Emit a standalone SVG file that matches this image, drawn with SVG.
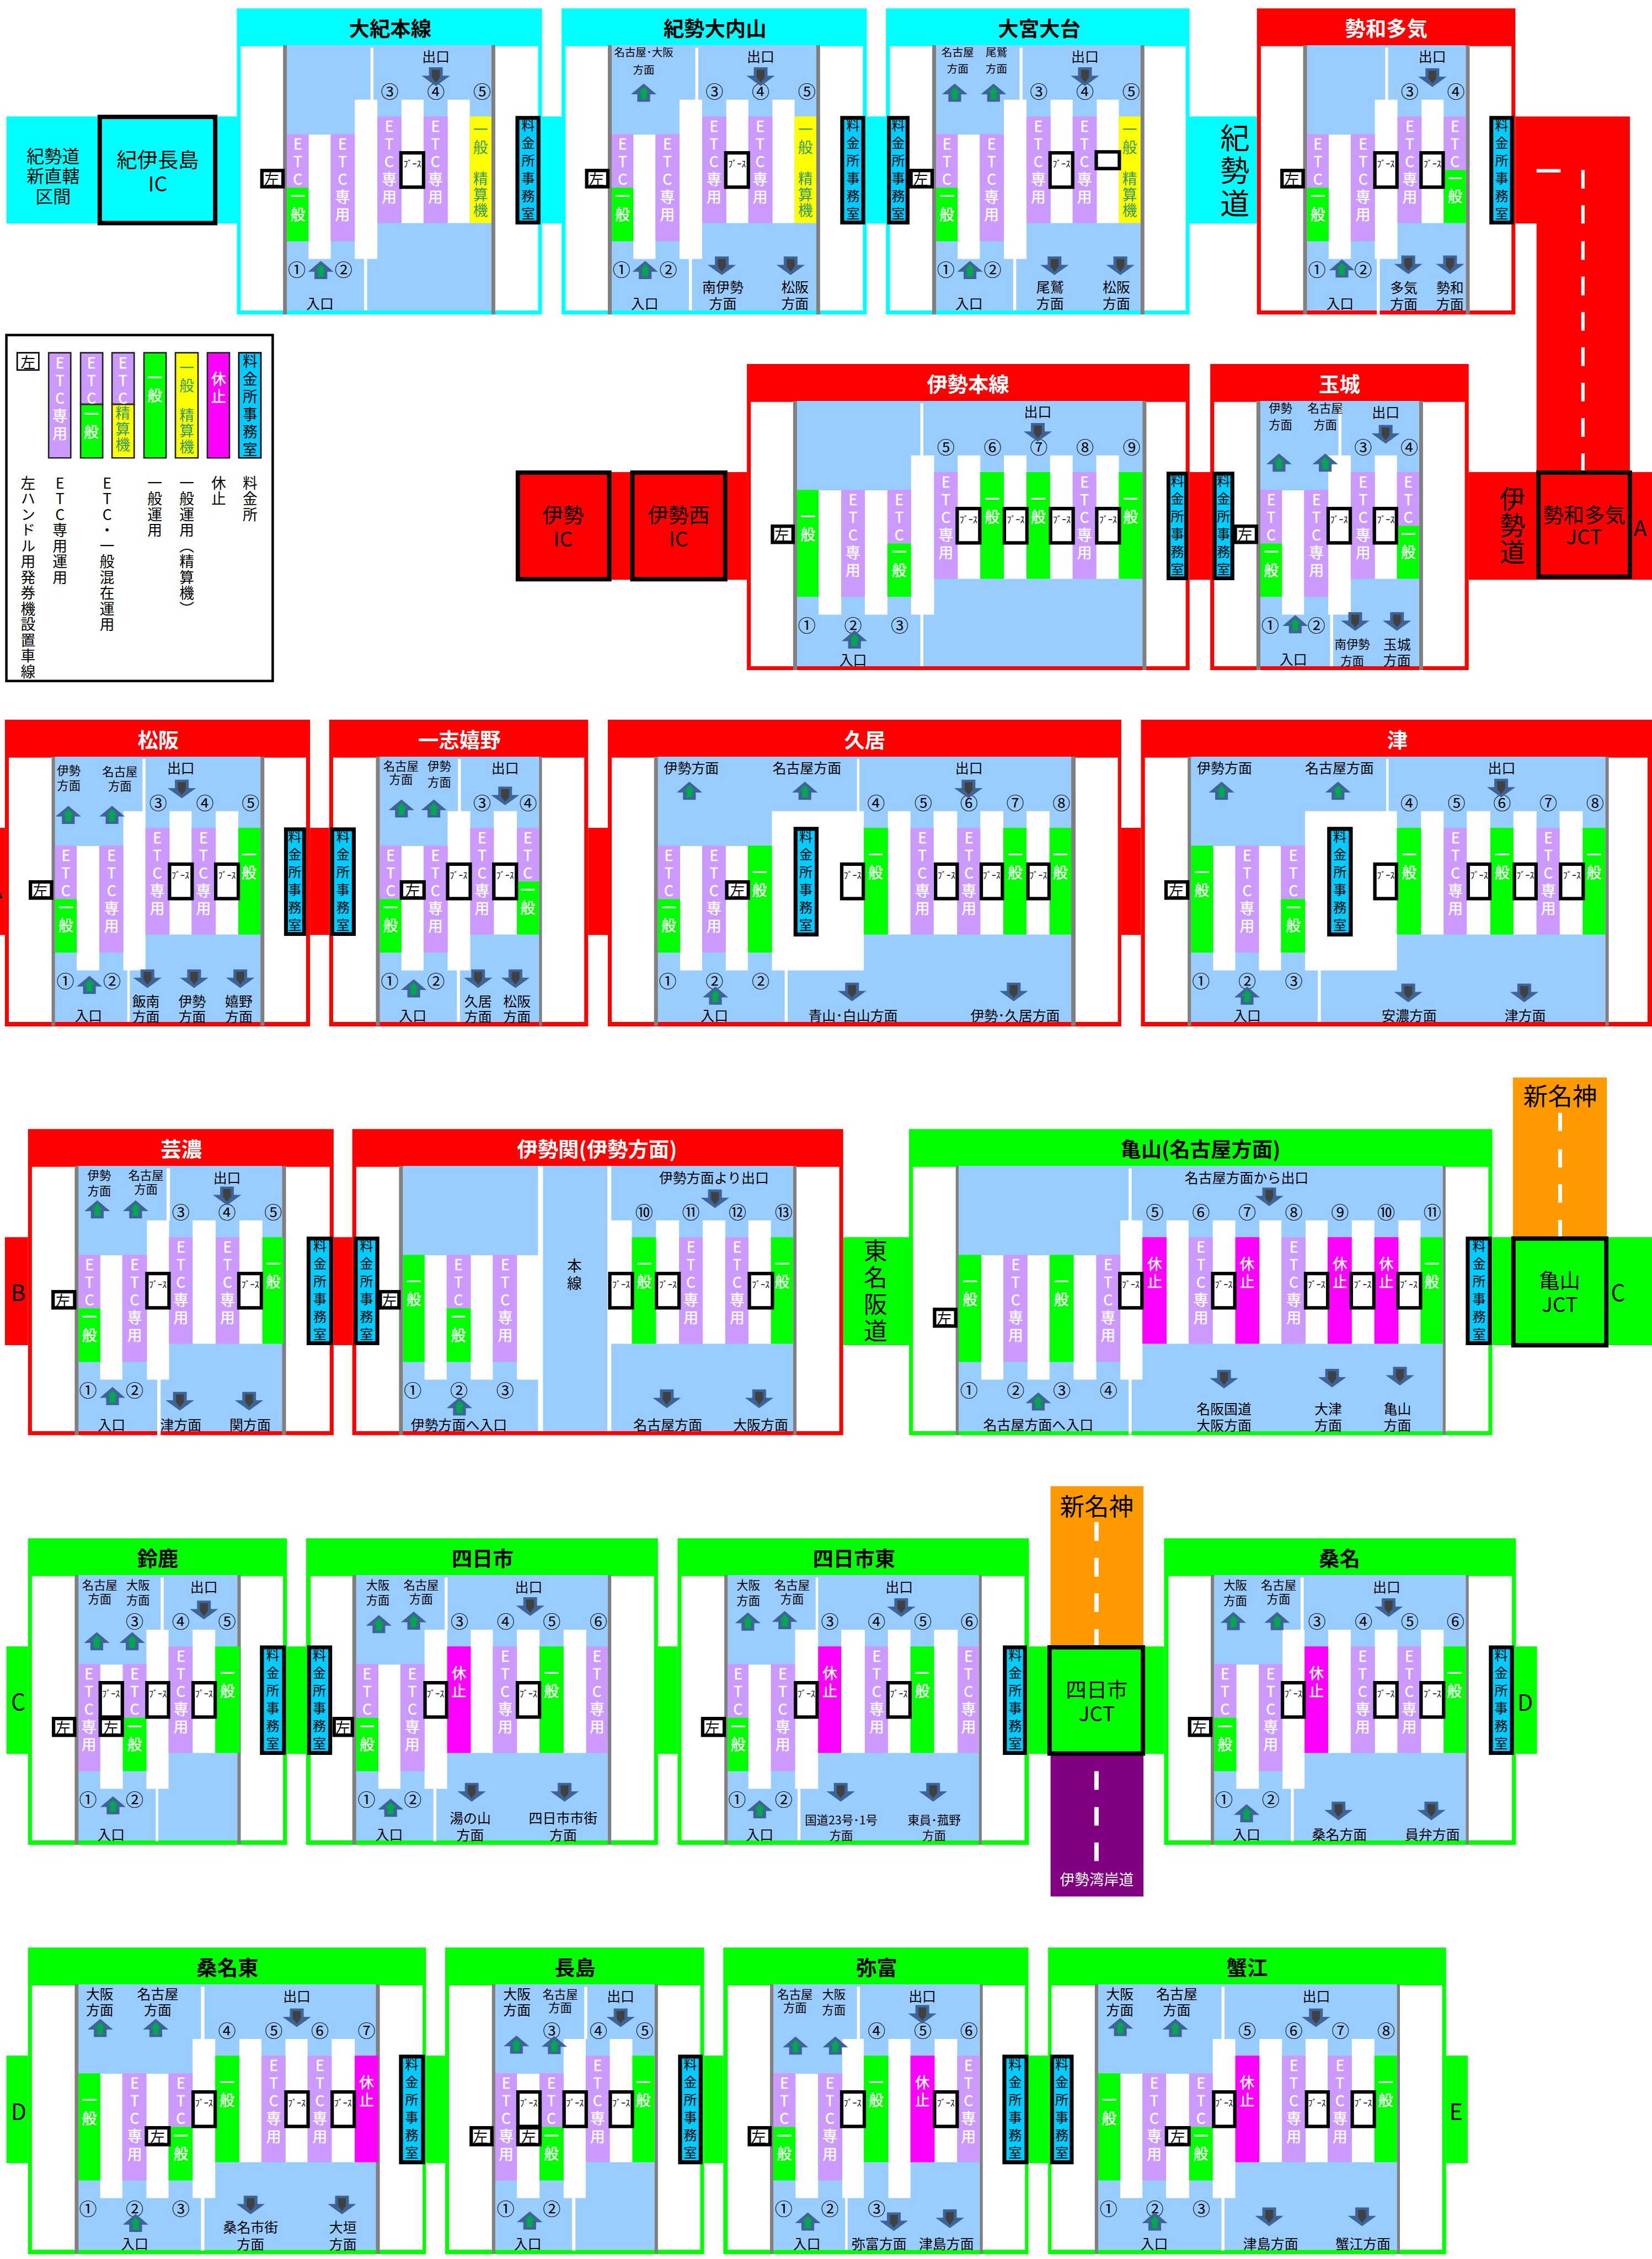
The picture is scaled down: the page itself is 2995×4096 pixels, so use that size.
<svg xmlns="http://www.w3.org/2000/svg" width="2995" height="4096" viewBox="0 0 2995 4096">
<style>
text{font-family:"Noto Sans CJK JP","Noto Sans",sans-serif;text-anchor:middle;dominant-baseline:central;font-size:28px;fill:#000}
.v,.v text{writing-mode:vertical-rl;text-orientation:upright;text-anchor:start;letter-spacing:6px;font-size:30px}
.of+.v{font-size:27px;letter-spacing:9px}
.w,.w text{fill:#fff}
.v.w text{stroke:#fff;stroke-width:.5px}
.t,.t text{fill:#339966}
.z{letter-spacing:2px!important}
.n{font-size:36px}
.bo+.n{font-size:30px}
.s text{font-size:24px}
.x text{font-size:22px}
.f{font-size:18px}
.h{font-size:42px;font-weight:700}
.wh{fill:#fff}.bl{fill:#9cf}.gy{fill:#808080}.p{fill:#c9f}.g{fill:#0f0}.y{fill:#ff0}.m{fill:#f0f}.r{fill:#f00}.c{fill:#0ff}
.bo{fill:#fff;stroke:#000;stroke-width:7}
.of{fill:#0cf;stroke:#000;stroke-width:8}
.ic{stroke:#000;stroke-width:9}
.r2{font-size:42px}
.lg{fill:#fff;stroke:#000;stroke-width:5}
.sw{stroke:#222;stroke-width:3}
</style>
<defs>
<g id="u"><path fill="#3e6496" d="M0 0L26 22H13V37H-13V22H-26z"/><path fill="#00a650" d="M0 7L10 18H6V32H-6V18H-10z"/></g>
<g id="d"><path fill="#3e6496" d="M-14 0H14V17H29L0 38L-29 17H-14z"/><path fill="#404040" d="M-8 5H8V21L0 31L-8 21z"/></g>
</defs>
<g transform="scale(.89084)">
<g id="roads">
<path class="c" d="M13 237h2545v218H13z"/>
<path class="r" d="M3084 237h233v724h-190V455h-43zM2989 961h373v219H2989zM1244 961h276v219h-276zM2421 961h42v219h-42zM0 1685h10v218H0zM631 1685h39v218h-39zM1197 1685h40v218h-40zM2282 1685h40v218h-40zM10 2518h47v220H10zM679 2518h38v220h-38z"/>
<path class="g" d="M1716 2518h134v220h-134zM3037 2518h325v220H3037zM13 3351h44v219H13zM584 3351h39v219h-39zM1339 3351h40v219h-40zM2094 3351h275v219H2094zM3085 3351h43v219h-43zM13 4184h44v219H13zM867 4184h39v219h-39zM1433 4184h39v219h-39zM2093 4184h40v219h-40zM2943 4184h44v219h-44z"/>
<rect x="3079" y="2193" width="191" height="324" fill="#f90"/>
<rect x="2138" y="3025" width="189" height="324" fill="#f90"/>
<rect x="2138" y="3573" width="189" height="287" fill="#800080"/>
<path class="wh" d="M3127 344h49v7h-49zM3218 346h7v38h-7zM3218 418h7v37h-7zM3218 491h7v38h-7zM3218 563h7v38h-7zM3218 635h7v38h-7zM3218 707h7v38h-7zM3218 779h7v38h-7zM3218 851h7v38h-7zM3218 923h7v35h-7zM3171 2265h8v37h-8zM3171 2339h8v37h-8zM3171 2410h8v38h-8zM3171 2483h8v34h-8zM2227 3098h9v38h-9zM2227 3171h9v38h-9zM2227 3243h9v38h-9zM2227 3316h9v33h-9zM2227 3605h9v38h-9zM2227 3678h9v38h-9zM2227 3750h9v38h-9z"/>
<text x="108" y="315" style="font-size:36px">紀勢道<tspan x="108" dy="41">新直轄</tspan><tspan x="108" dy="41">区間</tspan></text>
<text class="v" x="2513" y="250" style="font-size:60px;letter-spacing:7px">紀勢道</text>
<text class="v" x="3078" y="989" style="font-size:52px;letter-spacing:2px">伊勢道</text>
<text class="v" x="1782" y="2522" style="font-size:48px;letter-spacing:6px">東名阪道</text>
<text x="3338" y="1072" style="font-size:44px">A</text>
<text x="-9" y="1809" style="font-size:44px">A</text>
<text x="37" y="2628" style="font-size:46px">B</text>
<text x="3293" y="2628" style="font-size:46px">C</text>
<text x="37" y="3461" style="font-size:46px">C</text>
<text x="3104" y="3462" style="font-size:46px">D</text>
<text x="38" y="4295" style="font-size:46px">D</text>
<text x="2963" y="4295" style="font-size:46px">E</text>
<text x="3175" y="2228" style="font-size:50px">新名神</text>
<text x="2232" y="3063" style="font-size:50px">新名神</text>
<text class="w" x="2232" y="3824" style="font-size:30px;fill:#fff">伊勢湾岸道</text>
</g>
<g id="ic1"><path class="c ic" d="M203 238h235v216H203z"/><text class="r2" x="321" y="323">紀伊長島<tspan x="321" dy="48">IC</tspan></text></g>
<g id="ic2"><path class="r ic" d="M1054 962h186v217H1054z"/><text class="r2" x="1146" y="1046">伊勢<tspan x="1146" dy="48">IC</tspan></text></g>
<g id="ic3"><path class="r ic" d="M1287 962h189v217H1287z"/><text class="r2" x="1381" y="1046">伊勢西<tspan x="1381" dy="48">IC</tspan></text></g>
<g id="jct1"><path class="r ic" d="M3131 962h186v212H3131z"/><text class="r2" x="3224" y="1046">勢和多気<tspan x="3224" dy="44">JCT</tspan></text></g>
<g id="jct2"><path class="g ic" d="M3080 2521h189v217H3080z"/><text class="r2" x="3174" y="2604">亀山<tspan x="3174" dy="48">JCT</tspan></text></g>
<g id="jct3"><path class="g ic" d="M2136 3353h190v216H2136z"/><text class="r2" x="2232" y="3437">四日市<tspan x="2232" dy="48">JCT</tspan></text></g>
<g id="legend">
<path class="lg" d="M13 682h542v704H13z"/>
<path class="bo" style="stroke-width:3" d="M35 718h44v35H35z"/><text class="n" x="57" y="736">左</text>
<path class="p sw" d="M99 718h45v214H99zM164 718h45v105h-45zM228 718h45v105h-45z"/><path class="g sw" d="M164 823h45v109h-45zM293 718h45v214h-45z"/><path class="y sw" d="M228 823h45v109h-45zM357 718h46v214h-46z"/><path class="m sw" d="M422 718h45v214h-45z"/><path class="of" style="stroke-width:3" d="M486 718h45v214h-45z"/>
<g class="v w"><text x="122" y="723">ETC専用</text><text x="186" y="723">ETC</text><text x="186" y="828">一般</text><text x="250" y="723">ETC</text><text x="315" y="754">一般</text><text x="445" y="756">休止</text></g>
<g class="v t"><text class="z" x="250" y="826">精算機</text><text x="380" y="734">一般</text><text class="z" x="380" y="830">精算機</text></g>
<g class="v"><text x="509" y="720">料金所事務室</text></g>
<g class="v"><text class="z" x="57" y="968">左ハンドル用発券機設置車線</text><text class="z" x="122" y="968">ETC専用運用</text><text class="z" x="218" y="968">ETC・一般混在運用</text><text class="z" x="315" y="968">一般運用</text><text class="z" x="380" y="968">一般運用（精算機）</text><text class="z" x="445" y="968">休止</text><text class="z" x="509" y="968">料金所</text></g>
</g>
<g id="s1" transform="translate(0,17)">
<path class="c" d="M482 0h621v623H482z"/><path class="wh" d="M490 77h605v538H490z"/><path class="bl" d="M584 75h416v540H584z"/><path class="gy" d="M576 75h8v548h-8zM1000 75h8v548h-8z"/>
<path class="wh" d="M628 257h45v253h-45zM722 186h46v324h-46zM817 186h45v251h-45zM911 186h45v251h-45zM754 80h6v106h-6zM741 510h6v105h-6z"/>
<path class="p" d="M584 256h44v109h-44zM673 256h49v218h-49zM768 220h49v217h-49zM862 220h49v217h-49z"/><path class="g" d="M584 365h44v109h-44z"/><path class="y" d="M956 220h44v217h-44z"/>
<g class="v w"><text x="606" y="261">ETC</text><text x="606" y="368">一般</text><text x="697" y="261">ETC専用</text><text x="792" y="225">ETC専用</text><text x="886" y="225">ETC専用</text></g><g class="v t"><text x="978" y="232">一般</text><text class="z" x="978" y="332">精算機</text></g>
<text class="n" x="604 699" y="530">①②</text><text class="n" x="793 887 981" y="167">③④⑤</text>
<path class="bo" d="M816 294h46v70h-46z"/><text class="f" x="839" y="315">ﾌﾞｰｽ</text><path class="bo" d="M533 330h43v33h-43z"/><text class="n" x="553" y="346">左</text>
<path class="of" d="M1053 223h43v213h-43z"/><text class="v" x="1075" y="224">料金所事務室</text>
<use href="#u" x="653" y="514"/><use href="#d" x="887" y="120"/>
<text x="887" y="96">出口</text><text x="651" y="599">入口</text><text class="h" x="794" y="39">大紀本線</text>
</g>
<g id="s2" transform="translate(0,17)">
<path class="c" d="M1143 0h621v623H1143z"/><path class="wh" d="M1151 77h605v538H1151z"/><path class="bl" d="M1245 75h416v540H1245z"/><path class="gy" d="M1237 75h8v548h-8zM1661 75h8v548h-8z"/>
<path class="wh" d="M1289 257h45v253h-45zM1383 186h46v324h-46zM1478 186h45v251h-45zM1572 186h45v251h-45zM1415 80h6v106h-6zM1402 510h6v105h-6z"/>
<path class="p" d="M1245 256h44v109h-44zM1334 256h49v218h-49zM1429 220h49v217h-49zM1523 220h49v217h-49z"/><path class="g" d="M1245 365h44v109h-44z"/><path class="y" d="M1617 220h44v217h-44z"/>
<g class="v w"><text x="1267" y="261">ETC</text><text x="1267" y="368">一般</text><text x="1358" y="261">ETC専用</text><text x="1453" y="225">ETC専用</text><text x="1547" y="225">ETC専用</text></g><g class="v t"><text x="1639" y="232">一般</text><text class="z" x="1639" y="332">精算機</text></g>
<text class="n" x="1265 1360" y="530">①②</text><text class="n" x="1454 1548 1642" y="167">③④⑤</text>
<path class="bo" d="M1477 294h46v70h-46z"/><text class="f" x="1500" y="315">ﾌﾞｰｽ</text><path class="bo" d="M1194 330h43v33h-43z"/><text class="n" x="1214" y="346">左</text>
<path class="of" d="M1714 223h43v213h-43z"/><text class="v" x="1736" y="224">料金所事務室</text>
<use href="#u" x="1310" y="153"/><use href="#u" x="1313" y="514"/><use href="#d" x="1548" y="120"/><use href="#d" x="1469" y="505"/><use href="#d" x="1609" y="505"/>
<text x="1548" y="96">出口</text><text x="1312" y="599">入口</text><g class="x"><text x="1310" y="88">名古屋･大阪</text><text x="1310" y="124">方面</text></g><text x="1471" y="566">南伊勢</text><text x="1471" y="599">方面</text><text x="1618" y="566">松阪</text><text x="1618" y="599">方面</text><text class="h" x="1455" y="39">紀勢大内山</text>
</g>
<g id="s3" transform="translate(0,17)">
<path class="c" d="M1803 0h618v623H1803z"/><path class="wh" d="M1811 77h602v538H1811z"/><path class="bl" d="M1905 75h416v540H1905z"/><path class="gy" d="M1897 75h8v548h-8zM2321 75h8v548h-8z"/>
<path class="wh" d="M1949 257h45v253h-45zM2043 186h46v324h-46zM2138 186h45v251h-45zM2232 186h45v251h-45zM2075 80h6v106h-6zM2062 510h6v105h-6z"/>
<path class="p" d="M1905 256h44v109h-44zM1994 256h49v218h-49zM2089 220h49v217h-49zM2183 220h49v217h-49z"/><path class="g" d="M1905 365h44v109h-44z"/><path class="y" d="M2277 220h44v217h-44z"/>
<g class="v w"><text x="1927" y="261">ETC</text><text x="1927" y="368">一般</text><text x="2018" y="261">ETC専用</text><text x="2113" y="225">ETC専用</text><text x="2207" y="225">ETC専用</text></g><g class="v t"><text x="2299" y="232">一般</text><text class="z" x="2299" y="332">精算機</text></g>
<text class="n" x="1925 2020" y="530">①②</text><text class="n" x="2114 2208 2302" y="167">③④⑤</text>
<path class="bo" d="M2137 294h46v70h-46z"/><text class="f" x="2160" y="315">ﾌﾞｰｽ</text><path class="bo" d="M2231 292h47v34h-47z"/><path class="bo" d="M1854 330h43v33h-43z"/><text class="n" x="1874" y="346">左</text>
<path class="of" d="M1809 223h38v213h-38z"/><text class="v" x="1828" y="224">料金所事務室</text>
<use href="#u" x="1943" y="153"/><use href="#u" x="2022" y="153"/><use href="#u" x="1974" y="514"/><use href="#d" x="2208" y="120"/><use href="#d" x="2146" y="505"/><use href="#d" x="2280" y="505"/>
<text x="2208" y="96">出口</text><text x="1972" y="599">入口</text><g class="x"><text x="1949" y="88">名古屋</text><text x="1949" y="122">方面</text><text x="2028" y="88">尾鷲</text><text x="2028" y="122">方面</text></g><text x="2137" y="566">尾鷲</text><text x="2137" y="599">方面</text><text x="2272" y="566">松阪</text><text x="2272" y="599">方面</text><text class="h" x="2115" y="39">大宮大台</text>
</g>
<g id="s4" transform="translate(0,17)">
<path class="r" d="M2558 0h526v623H2558z"/><path class="wh" d="M2566 77h510v538H2566z"/><path class="bl" d="M2660 75h323v540H2660z"/><path class="gy" d="M2652 75h8v548h-8zM2983 75h8v548h-8z"/>
<path class="wh" d="M2704 257h45v253h-45zM2798 186h46v324h-46zM2893 186h45v251h-45zM2819 80h6v106h-6zM2802 510h6v113h-6z"/>
<path class="p" d="M2660 256h44v109h-44zM2749 256h49v218h-49zM2844 220h49v217h-49zM2938 220h45v109h-45z"/><path class="g" d="M2660 365h44v109h-44zM2938 329h45v108h-45z"/>
<g class="v w"><text x="2682" y="261">ETC</text><text x="2682" y="368">一般</text><text x="2774" y="261">ETC専用</text><text x="2869" y="225">ETC専用</text><text x="2961" y="225">ETC</text><text x="2961" y="332">一般</text></g>
<text class="n" x="2680 2774" y="530">①②</text><text class="n" x="2869 2963" y="167">③④</text>
<path class="bo" d="M2798 294h45v70h-45z"/><text class="f" x="2820" y="315">ﾌﾞｰｽ</text><path class="bo" d="M2892 294h45v70h-45z"/><text class="f" x="2915" y="315">ﾌﾞｰｽ</text><path class="bo" d="M2609 330h43v33h-43z"/><text class="n" x="2629" y="346">左</text>
<path class="of" d="M3035 223h42v213h-42z"/><text class="v" x="3056" y="224">料金所事務室</text>
<use href="#u" x="2731" y="511"/><use href="#d" x="2915" y="122"/><use href="#d" x="2866" y="503"/><use href="#d" x="2951" y="503"/>
<text x="2915" y="96">出口</text><text x="2727" y="599">入口</text><text x="2857" y="567">多気</text><text x="2857" y="600">方面</text><text x="2951" y="567">勢和</text><text x="2951" y="600">方面</text><text class="h w" x="2821" y="39">勢和多気</text>
</g>
<g id="s5" transform="translate(0,741)">
<path class="r" d="M1520 0h901v623H1520z"/><path class="wh" d="M1528 77h885v538H1528z"/><path class="bl" d="M1622 75h703v540H1622z"/><path class="gy" d="M1614 75h8v548h-8zM2325 75h8v548h-8z"/>
<path class="wh" d="M1666 257h46v253h-46zM1760 257h46v253h-46zM1854 186h47v324h-47zM1949 186h46v251h-46zM2043 186h46v251h-46zM2137 186h46v251h-46zM2231 186h46v251h-46zM1873 80h6v106h-6zM1873 510h6v105h-6z"/>
<path class="p" d="M1712 256h48v218h-48zM1806 256h48v109h-48zM1901 220h48v217h-48zM2183 220h48v217h-48z"/><path class="g" d="M1622 256h44v218h-44zM1806 365h48v109h-48zM1995 220h48v217h-48zM2089 220h48v217h-48zM2277 220h48v217h-48z"/>
<g class="v w"><text x="1644" y="296">一般</text><text x="1736" y="261">ETC専用</text><text x="1830" y="261">ETC</text><text x="1830" y="368">一般</text><text x="1925" y="225">ETC専用</text><text x="2019" y="260">一般</text><text x="2113" y="260">一般</text><text x="2207" y="225">ETC専用</text><text x="2301" y="260">一般</text></g>
<text class="n" x="1642 1736 1831" y="530">①②③</text><text class="n" x="1925 2020 2114 2208 2303" y="167">⑤⑥⑦⑧⑨</text>
<path class="bo" d="M1948 294h46v70h-46z"/><text class="f" x="1971" y="315">ﾌﾞｰｽ</text><path class="bo" d="M2044 294h46v70h-46z"/><text class="f" x="2067" y="315">ﾌﾞｰｽ</text><path class="bo" d="M2138 294h46v70h-46z"/><text class="f" x="2161" y="315">ﾌﾞｰｽ</text><path class="bo" d="M2232 294h46v70h-46z"/><text class="f" x="2255" y="315">ﾌﾞｰｽ</text><path class="bo" d="M1572 330h42v33h-42z"/><text class="n" x="1591" y="346">左</text>
<path class="of" d="M2378 223h36v213h-36z"/><text class="v" x="2396" y="224">料金所事務室</text>
<use href="#u" x="1739" y="542"/><use href="#d" x="2112" y="120"/>
<text x="2112" y="95">出口</text><text x="1736" y="600">入口</text><text class="h w" x="1970" y="39">伊勢本線</text>
</g>
<g id="s6" transform="translate(0,741)">
<path class="r" d="M2463 0h526v623H2463z"/><path class="wh" d="M2471 77h510v538H2471z"/><path class="bl" d="M2565 75h323v540H2565z"/><path class="gy" d="M2557 75h8v548h-8zM2888 75h8v548h-8z"/>
<path class="wh" d="M2609 257h45v253h-45zM2703 186h46v324h-46zM2798 186h45v251h-45zM2724 80h6v106h-6zM2707 510h6v105h-6z"/>
<path class="p" d="M2565 256h44v109h-44zM2654 256h49v218h-49zM2749 220h49v217h-49zM2843 220h45v109h-45z"/><path class="g" d="M2565 365h44v109h-44zM2843 329h45v108h-45z"/>
<g class="v w"><text x="2587" y="261">ETC</text><text x="2587" y="368">一般</text><text x="2679" y="261">ETC専用</text><text x="2774" y="225">ETC専用</text><text x="2866" y="225">ETC</text><text x="2866" y="332">一般</text></g>
<text class="n" x="2585 2679" y="530">①②</text><text class="n" x="2774 2868" y="167">③④</text>
<path class="bo" d="M2703 294h45v70h-45z"/><text class="f" x="2725" y="315">ﾌﾞｰｽ</text><path class="bo" d="M2797 294h45v70h-45z"/><text class="f" x="2820" y="315">ﾌﾞｰｽ</text><path class="bo" d="M2514 330h43v33h-43z"/><text class="n" x="2534" y="346">左</text>
<path class="of" d="M2472 223h36v213h-36z"/><text class="v" x="2490" y="224">料金所事務室</text>
<use href="#u" x="2603" y="182"/><use href="#u" x="2697" y="182"/><use href="#u" x="2636" y="511"/><use href="#d" x="2820" y="124"/><use href="#d" x="2758" y="505"/><use href="#d" x="2843" y="505"/>
<text x="2820" y="96">出口</text><text x="2632" y="599">入口</text><g class="s"><text x="2606" y="88">伊勢</text><text x="2606" y="122">方面</text><text x="2697" y="88">名古屋</text><text x="2697" y="122">方面</text><text x="2752" y="569">南伊勢</text><text x="2752" y="602">方面</text></g><text x="2843" y="569">玉城</text><text x="2843" y="602">方面</text><text class="h w" x="2726" y="39">玉城</text>
</g>
<g id="s7" transform="translate(0,1465)">
<path class="r" d="M10 0h621v624H10z"/><path class="wh" d="M18 77h605v538H18z"/><path class="bl" d="M112 75h418v540H112z"/><path class="gy" d="M105 75h7v548h-7zM530 75h8v548h-8z"/>
<path class="wh" d="M156 257h46v253h-46zM251 186h45v324h-45zM345 186h45v251h-45zM439 186h46v251h-46zM290 80h6v106h-6zM259 510h5v105h-5z"/>
<path class="p" d="M112 256h44v109h-44zM202 256h49v218h-49zM296 220h49v217h-49zM390 220h49v217h-49z"/><path class="g" d="M112 365h44v109h-44zM485 220h45v217h-45z"/>
<g class="v w"><text x="134" y="261">ETC</text><text x="134" y="368">一般</text><text x="227" y="261">ETC専用</text><text x="320" y="225">ETC専用</text><text x="414" y="225">ETC専用</text><text x="507" y="260">一般</text></g>
<text class="n" x="133 228" y="530">①②</text><text class="n" x="322 417 510" y="167">③④⑤</text>
<path class="bo" d="M345 294h46v70h-46z"/><text class="f" x="367" y="315">ﾌﾞｰｽ</text><path class="bo" d="M439 294h46v70h-46z"/><text class="f" x="462" y="315">ﾌﾞｰｽ</text><path class="bo" d="M62 330h43v33H62z"/><text class="n" x="82" y="346">左</text>
<path class="of" d="M582 223h37v213h-37z"/><text class="v" x="600" y="224">料金所事務室</text>
<use href="#u" x="139" y="175"/><use href="#u" x="228" y="175"/><use href="#u" x="182" y="521"/><use href="#d" x="370" y="122"/><use href="#d" x="300" y="508"/><use href="#d" x="395" y="508"/><use href="#d" x="489" y="508"/>
<text x="368" y="96">出口</text><text x="180" y="601">入口</text><g class="s"><text x="140" y="101">伊勢</text><text x="140" y="132">方面</text><text x="244" y="104">名古屋</text><text x="244" y="133">方面</text></g><text x="297" y="571">飯南</text><text x="297" y="603">方面</text><text x="391" y="571">伊勢</text><text x="391" y="603">方面</text><text x="486" y="571">嬉野</text><text x="486" y="603">方面</text><text class="h w" x="322" y="39">松阪</text>
</g>
<g id="s8" transform="translate(0,1465)">
<path class="r" d="M670 0h527v624H670z"/><path class="wh" d="M678 77h511v538H678z"/><path class="bl" d="M773 75h324v540H773z"/><path class="gy" d="M765 75h8v548h-8zM1097 75h6v548h-6z"/>
<path class="wh" d="M817 257h45v253h-45zM911 186h46v324h-46zM1005 186h47v251h-47zM932 80h6v106h-6zM930 510h6v105h-6z"/>
<path class="p" d="M773 256h44v109h-44zM862 256h49v218h-49zM957 220h48v217h-48zM1052 220h45v109h-45z"/><path class="g" d="M773 365h44v109h-44zM1052 329h45v108h-45z"/>
<g class="v w"><text x="795" y="261">ETC</text><text x="795" y="368">一般</text><text x="886" y="261">ETC専用</text><text x="981" y="225">ETC専用</text><text x="1074" y="225">ETC</text><text x="1074" y="332">一般</text></g>
<text class="n" x="793 887" y="530">①②</text><text class="n" x="981 1075" y="167">③④</text>
<path class="bo" d="M911 294h46v70h-46z"/><text class="f" x="933" y="315">ﾌﾞｰｽ</text><path class="bo" d="M1005 294h46v70h-46z"/><text class="f" x="1028" y="315">ﾌﾞｰｽ</text><path class="bo" d="M817 330h46v33h-46z"/><text class="n" x="840" y="346">左</text>
<path class="of" d="M676 223h44v213h-44z"/><text class="v" x="698" y="224">料金所事務室</text>
<use href="#u" x="817" y="162"/><use href="#u" x="883" y="162"/><use href="#u" x="842" y="528"/><use href="#d" x="1028" y="136"/><use href="#d" x="973" y="508"/><use href="#d" x="1049" y="508"/>
<text x="1028" y="96">出口</text><text x="840" y="601">入口</text><g class="s"><text x="816" y="92">名古屋</text><text x="816" y="120">方面</text><text x="894" y="92">伊勢</text><text x="894" y="125">方面</text></g><text x="973" y="571">久居</text><text x="973" y="603">方面</text><text x="1052" y="571">松阪</text><text x="1052" y="603">方面</text><text class="h w" x="935" y="39">一志嬉野</text>
</g>
<g id="s9" transform="translate(0,1465)">
<path class="r" d="M1237 0h1045v624H1237z"/><path class="wh" d="M1245 77h1030v538H1245z"/><path class="bl" d="M1339 75h841v540H1339z"/><path class="gy" d="M1331 75h8v548h-8zM2180 75h9v548h-9z"/>
<path class="wh" d="M1384 257h45v253h-45zM1477 257h45v253h-45zM1571 186h187v324h-187zM1807 186h46v251h-46zM1900 186h48v251h-48zM1995 186h47v251h-47zM2089 186h47v251h-47zM1744 80h5v106h-5zM1597 510h6v105h-6z"/>
<path class="p" d="M1339 256h45v109h-45zM1429 256h48v218h-48zM1853 220h47v217h-47zM1948 220h47v217h-47z"/><path class="g" d="M1339 365h45v109h-45zM1522 256h49v218h-49zM1758 220h49v217h-49zM2042 220h47v217h-47zM2136 220h44v217h-44z"/>
<g class="v w"><text x="1361" y="261">ETC</text><text x="1361" y="368">一般</text><text x="1453" y="261">ETC専用</text><text x="1546" y="296">一般</text><text x="1782" y="260">一般</text><text x="1877" y="225">ETC専用</text><text x="1972" y="225">ETC専用</text><text x="2066" y="260">一般</text><text x="2158" y="260">一般</text></g>
<text class="n" x="1359 1454 1548" y="530">①②②</text><text class="n" x="1783 1879 1972 2066 2160" y="167">④⑤⑥⑦⑧</text>
<path class="bo" d="M1713 294h44v70h-44z"/><text class="f" x="1735" y="315">ﾌﾞｰｽ</text><path class="bo" d="M1904 294h44v70h-44z"/><text class="f" x="1926" y="315">ﾌﾞｰｽ</text><path class="bo" d="M1997 294h43v70h-43z"/><text class="f" x="2018" y="315">ﾌﾞｰｽ</text><path class="bo" d="M2092 294h43v70h-43z"/><text class="f" x="2113" y="315">ﾌﾞｰｽ</text><path class="bo" d="M1479 330h44v33h-44z"/><text class="n" x="1501" y="346">左</text>
<path class="of" d="M1619 222h43v215h-43z"/><text class="v" x="1640" y="224">料金所事務室</text>
<use href="#u" x="1403" y="126"/><use href="#u" x="1638" y="126"/><use href="#u" x="1456" y="543"/><use href="#d" x="1971" y="122"/><use href="#d" x="1734" y="535"/><use href="#d" x="2063" y="535"/>
<text x="1972" y="96">出口</text><text x="1454" y="601">入口</text><text x="1407" y="96">伊勢方面</text><text x="1642" y="96">名古屋方面</text><text x="1736" y="601">青山･白山方面</text><text x="2066" y="601">伊勢･久居方面</text><text class="h w" x="1760" y="39">久居</text>
</g>
<g id="s10" transform="translate(0,1465)">
<path class="r" d="M2322 0h1040v624H2322z"/><path class="wh" d="M2330 77h1023v538H2330z"/><path class="bl" d="M2424 75h843v540H2424z"/><path class="gy" d="M2417 75h7v548h-7zM3267 75h7v548h-7z"/>
<path class="wh" d="M2469 257h45v253h-45zM2562 257h45v253h-45zM2656 186h187v324h-187zM2892 186h46v251h-46zM2985 186h48v251h-48zM3080 186h47v251h-47zM3174 186h47v251h-47zM2821 80h5v106h-5zM2682 510h6v105h-6z"/>
<path class="p" d="M2514 256h48v218h-48zM2607 256h49v109h-49zM2938 220h47v217h-47zM3127 220h47v217h-47z"/><path class="g" d="M2424 256h45v218h-45zM2607 365h49v109h-49zM2843 220h49v217h-49zM3033 220h47v217h-47zM3221 220h46v217h-46z"/>
<g class="v w"><text x="2446" y="296">一般</text><text x="2538" y="261">ETC専用</text><text x="2632" y="261">ETC</text><text x="2632" y="368">一般</text><text x="2868" y="260">一般</text><text x="2962" y="225">ETC専用</text><text x="3057" y="260">一般</text><text x="3151" y="225">ETC専用</text><text x="3244" y="260">一般</text></g>
<text class="n" x="2444 2538 2633" y="530">①②③</text><text class="n" x="2868 2964 3057 3151 3246" y="167">④⑤⑥⑦⑧</text>
<path class="bo" d="M2798 294h44v70h-44z"/><text class="f" x="2820" y="315">ﾌﾞｰｽ</text><path class="bo" d="M2988 294h44v70h-44z"/><text class="f" x="3010" y="315">ﾌﾞｰｽ</text><path class="bo" d="M3082 294h44v70h-44z"/><text class="f" x="3104" y="315">ﾌﾞｰｽ</text><path class="bo" d="M3176 294h46v70h-46z"/><text class="f" x="3199" y="315">ﾌﾞｰｽ</text><path class="bo" d="M2373 330h44v33h-44z"/><text class="n" x="2394" y="346">左</text>
<path class="of" d="M2705 222h44v215h-44z"/><text class="v" x="2727" y="224">料金所事務室</text>
<use href="#u" x="2486" y="126"/><use href="#u" x="2723" y="126"/><use href="#u" x="2538" y="543"/><use href="#d" x="3055" y="120"/><use href="#d" x="2866" y="537"/><use href="#d" x="3102" y="537"/>
<text x="3056" y="96">出口</text><text x="2538" y="601">入口</text><text x="2492" y="96">伊勢方面</text><text x="2726" y="96">名古屋方面</text><text x="2868" y="601">安濃方面</text><text x="3104" y="601">津方面</text><text class="h w" x="2844" y="39">津</text>
</g>
<g id="s11" transform="translate(0,2298)">
<path class="r" d="M57 0h622v623H57z"/><path class="wh" d="M65 77h606v538H65z"/><path class="bl" d="M160 75h414v540H160z"/><path class="gy" d="M152 75h8v548h-8zM574 75h8v548h-8z"/>
<path class="wh" d="M204 257h45v253h-45zM299 186h45v324h-45zM392 186h47v251h-47zM487 186h47v251h-47zM339 80h7v106h-7zM320 510h7v113h-7z"/>
<path class="p" d="M160 256h44v109h-44zM249 256h50v218h-50zM344 220h48v217h-48zM439 220h48v217h-48z"/><path class="g" d="M160 365h44v109h-44zM534 220h43v217h-43z"/>
<g class="v w"><text x="182" y="261">ETC</text><text x="182" y="368">一般</text><text x="274" y="261">ETC専用</text><text x="368" y="225">ETC専用</text><text x="463" y="225">ETC専用</text><text x="556" y="260">一般</text></g>
<text class="n" x="179 274" y="530">①②</text><text class="n" x="368 462 556" y="167">③④⑤</text>
<path class="bo" d="M299 294h45v70h-45z"/><text class="f" x="321" y="315">ﾌﾞｰｽ</text><path class="bo" d="M486 294h46v70h-46z"/><text class="f" x="509" y="315">ﾌﾞｰｽ</text><path class="bo" d="M108 331h44v33h-44z"/><text class="n" x="128" y="348">左</text>
<path class="of" d="M628 223h46v213h-46z"/><text class="v" x="651" y="224">料金所事務室</text>
<use href="#u" x="198" y="145"/><use href="#u" x="276" y="145"/><use href="#u" x="229" y="525"/><use href="#d" x="462" y="117"/><use href="#d" x="366" y="535"/><use href="#d" x="507" y="535"/>
<text x="462" y="97">出口</text><text x="227" y="600">入口</text><g class="s"><text x="202" y="92">伊勢</text><text x="202" y="124">方面</text><text x="297" y="92">名古屋</text><text x="297" y="120">方面</text></g><text x="368" y="600">津方面</text><text x="509" y="600">関方面</text><text class="h w" x="369" y="39">芸濃</text>
</g>
<g id="s12" transform="translate(0,2298)">
<path class="r" d="M717 0h999v623H717z"/><path class="wh" d="M725 77h983v538H725z"/><path class="bl" d="M820 75h794v540H820z"/><path class="gy" d="M812 75h8v548h-8zM1614 75h7v548h-7z"/>
<path class="wh" d="M1095 75h10v540h-10zM1236 75h8v540h-8zM864 257h45v253h-45zM958 257h45v253h-45zM1052 257h43v253h-43zM1244 186h42v251h-42zM1335 186h47v251h-47zM1430 186h46v251h-46zM1523 186h46v251h-46z"/>
<path class="p" d="M909 256h49v109h-49zM1003 256h49v218h-49zM1382 220h48v217h-48zM1476 220h47v217h-47z"/><path class="g" d="M820 256h44v218h-44zM909 365h49v109h-49zM1286 220h49v217h-49zM1569 220h45v217h-45z"/>
<g class="v w"><text x="842" y="296">一般</text><text x="933" y="261">ETC</text><text x="933" y="368">一般</text><text x="1028" y="261">ETC専用</text><text x="1311" y="260">一般</text><text x="1406" y="225">ETC専用</text><text x="1500" y="225">ETC専用</text><text x="1592" y="260">一般</text></g>
<text class="n" x="840 934 1028" y="530">①②③</text><text class="n" x="1311 1406 1501 1595" y="167">⑩⑪⑫⑬</text>
<path class="bo" d="M1241 294h46v70h-46z"/><text class="f" x="1264" y="315">ﾌﾞｰｽ</text><path class="bo" d="M1336 294h46v70h-46z"/><text class="f" x="1359" y="315">ﾌﾞｰｽ</text><path class="bo" d="M1525 294h47v70h-47z"/><text class="f" x="1548" y="315">ﾌﾞｰｽ</text><path class="bo" d="M774 331h38v33h-38z"/><text class="n" x="793" y="348">左</text>
<path class="of" d="M724 223h44v213h-44z"/><text class="v" x="746" y="224">料金所事務室</text>
<text class="v" x="1169" y="263">本線</text>
<use href="#u" x="935" y="546"/><use href="#d" x="1455" y="123"/><use href="#d" x="1357" y="530"/><use href="#d" x="1545" y="530"/>
<text x="1453" y="97">伊勢方面より出口</text><text x="934" y="600">伊勢方面へ入口</text><text x="1359" y="600">名古屋方面</text><text x="1548" y="600">大阪方面</text><text class="h w" x="1215" y="39">伊勢関(伊勢方面)</text>
</g>
<g id="s13" transform="translate(0,2298)">
<path class="g" d="M1850 0h1187v623H1850z"/><path class="wh" d="M1858 77h1171v538H1858z"/><path class="bl" d="M1951 75h985v540H1951z"/><path class="gy" d="M1945 75h6v548h-6zM2936 75h6v548h-6z"/>
<path class="wh" d="M1997 257h45v253h-45zM2091 257h45v253h-45zM2185 257h46v253h-46zM2280 186h45v324h-45zM2374 186h45v251h-45zM2468 186h46v251h-46zM2563 186h45v251h-45zM2657 186h45v251h-45zM2751 186h46v251h-46zM2846 186h45v251h-45zM2297 80h6v106h-6zM2297 510h6v112h-6z"/>
<path class="p" d="M2042 256h49v218h-49zM2231 256h49v218h-49zM2419 220h49v217h-49zM2608 220h49v217h-49z"/><path class="g" d="M1951 256h46v218h-46zM2136 256h49v218h-49zM2891 220h45v217h-45z"/><path class="m" d="M2325 220h49v217h-49zM2514 220h49v217h-49zM2702 220h49v217h-49zM2797 220h49v217h-49z"/>
<g class="v w"><text x="1974" y="296">一般</text><text x="2067" y="261">ETC専用</text><text x="2160" y="296">一般</text><text x="2255" y="261">ETC専用</text><text x="2350" y="260">休止</text><text x="2444" y="225">ETC専用</text><text x="2538" y="260">休止</text><text x="2633" y="225">ETC専用</text><text x="2727" y="260">休止</text><text x="2821" y="260">休止</text><text x="2914" y="260">一般</text></g>
<text class="n" x="1972 2067 2161 2256" y="530">①②③④</text><text class="n" x="2350 2444 2538 2633 2727 2821 2915" y="167">⑤⑥⑦⑧⑨⑩⑪</text>
<path class="bo" d="M2279 294h45v70h-45z"/><text class="f" x="2301" y="315">ﾌﾞｰｽ</text><path class="bo" d="M2468 294h45v70h-45z"/><text class="f" x="2490" y="315">ﾌﾞｰｽ</text><path class="bo" d="M2657 294h45v70h-45z"/><text class="f" x="2679" y="315">ﾌﾞｰｽ</text><path class="bo" d="M2750 294h46v70h-46z"/><text class="f" x="2773" y="315">ﾌﾞｰｽ</text><path class="bo" d="M2845 294h46v70h-46z"/><text class="f" x="2867" y="315">ﾌﾞｰｽ</text><path class="bo" d="M1902 367h43v34h-43z"/><text class="n" x="1922" y="384">左</text>
<path class="of" d="M2987 223h45v213h-45z"/><text class="v" x="3010" y="224">料金所事務室</text>
<use href="#u" x="2113" y="536"/><use href="#d" x="2583" y="119"/><use href="#d" x="2491" y="490"/><use href="#d" x="2711" y="488"/><use href="#d" x="2849" y="484"/>
<text x="2537" y="97">名古屋方面から出口</text><text x="2113" y="600">名古屋方面へ入口</text><text x="2491" y="568">名阪国道</text><text x="2491" y="601">大阪方面</text><text x="2703" y="568">大津</text><text x="2703" y="601">方面</text><text x="2844" y="568">亀山</text><text x="2844" y="601">方面</text><text class="h" x="2443" y="39">亀山(名古屋方面)</text>
</g>
<g id="s14" transform="translate(0,3131)">
<path class="g" d="M57 0h527v624H57z"/><path class="wh" d="M65 77h511v538H65z"/><path class="bl" d="M160 75h323v540H160z"/><path class="gy" d="M152 75h8v548h-8zM483 75h7v548h-7z"/>
<path class="wh" d="M204 257h46v253h-46zM298 186h45v324h-45zM392 186h46v251h-46zM327 80h6v106h-6zM317 510h5v107h-5z"/>
<path class="p" d="M160 256h44v218h-44zM250 256h48v109h-48zM343 220h49v217h-49z"/><path class="g" d="M250 365h48v109h-48zM438 220h50v217h-50z"/>
<g class="v w"><text x="181" y="261">ETC専用</text><text x="274" y="261">ETC</text><text x="274" y="368">一般</text><text x="368" y="225">ETC専用</text><text x="463" y="260">一般</text></g>
<text class="n" x="179 274" y="530">①②</text><text class="n" x="274 368 462" y="167">③④⑤</text>
<path class="bo" d="M204 294h45v70h-45z"/><text class="f" x="226" y="315">ﾌﾞｰｽ</text><path class="bo" d="M299 294h44v70h-44z"/><text class="f" x="321" y="315">ﾌﾞｰｽ</text><path class="bo" d="M393 294h45v70h-45z"/><text class="f" x="415" y="315">ﾌﾞｰｽ</text><path class="bo" d="M109 367h43v34h-43z"/><text class="n" x="129" y="384">左</text><path class="bo" d="M204 367h45v34h-45z"/><text class="n" x="226" y="384">左</text>
<path class="of" d="M533 222h45v215h-45z"/><text class="v" x="555" y="224">料金所事務室</text>
<use href="#u" x="197" y="191"/><use href="#u" x="269" y="191"/><use href="#u" x="230" y="525"/><use href="#d" x="415" y="127"/>
<text x="415" y="97">出口</text><text x="226" y="601">入口</text><g class="s"><text x="203" y="93">名古屋</text><text x="203" y="121">方面</text><text x="281" y="93">大阪</text><text x="281" y="124">方面</text></g><text class="h" x="321" y="39">鈴鹿</text>
</g>
<g id="s15" transform="translate(0,3131)">
<path class="g" d="M623 0h716v624H623z"/><path class="wh" d="M632 77h699v538H632z"/><path class="bl" d="M725 75h512v540H725z"/><path class="gy" d="M717 75h8v548h-8zM1237 75h7v548h-7z"/>
<path class="wh" d="M770 257h45v253h-45zM864 186h46v324h-46zM958 186h45v251h-45zM1052 186h46v251h-46zM1147 186h46v251h-46zM905 80h6v106h-6zM882 510h6v107h-6z"/>
<path class="p" d="M725 256h45v109h-45zM815 256h49v218h-49zM1003 220h49v217h-49zM1193 220h44v217h-44z"/><path class="g" d="M725 365h45v109h-45zM1098 220h49v217h-49z"/><path class="m" d="M910 220h48v217h-48z"/>
<g class="v w"><text x="747" y="261">ETC</text><text x="747" y="368">一般</text><text x="839" y="261">ETC専用</text><text x="934" y="260">休止</text><text x="1028" y="225">ETC専用</text><text x="1122" y="260">一般</text><text x="1215" y="225">ETC専用</text></g>
<text class="n" x="746 840" y="530">①②</text><text class="n" x="935 1029 1123 1218" y="167">③④⑤⑥</text>
<path class="bo" d="M865 294h44v70h-44z"/><text class="f" x="886" y="315">ﾌﾞｰｽ</text><path class="bo" d="M1053 294h45v70h-45z"/><text class="f" x="1075" y="315">ﾌﾞｰｽ</text><path class="bo" d="M680 367h37v34h-37z"/><text class="n" x="698" y="384">左</text>
<path class="of" d="M629 222h43v215h-43z"/><text class="v" x="650" y="224">料金所事務室</text>
<use href="#u" x="771" y="156"/><use href="#u" x="842" y="149"/><use href="#u" x="795" y="530"/><use href="#d" x="1079" y="120"/><use href="#d" x="960" y="498"/><use href="#d" x="1149" y="498"/>
<text x="1076" y="97">出口</text><text x="792" y="601">入口</text><g class="s"><text x="769" y="93">大阪</text><text x="769" y="124">方面</text><text x="857" y="93">名古屋</text><text x="857" y="121">方面</text></g><text x="957" y="568">湯の山</text><text x="957" y="603">方面</text><text x="1146" y="568">四日市市街</text><text x="1146" y="603">方面</text><text class="h" x="982" y="39">四日市</text>
</g>
<g id="s16" transform="translate(0,3131)">
<path class="g" d="M1379 0h715v624H1379z"/><path class="wh" d="M1387 77h698v538H1387z"/><path class="bl" d="M1481 75h511v540H1481z"/><path class="gy" d="M1474 75h7v548h-7zM1992 75h6v548h-6z"/>
<path class="wh" d="M1523 257h46v253h-46zM1618 186h47v324h-47zM1712 186h48v251h-48zM1807 186h46v251h-46zM1901 186h48v251h-48zM1660 80h5v106h-5zM1623 510h6v105h-6z"/>
<path class="p" d="M1481 256h42v109h-42zM1569 256h49v218h-49zM1760 220h47v217h-47zM1949 220h43v217h-43z"/><path class="g" d="M1481 365h42v109h-42zM1853 220h48v217h-48z"/><path class="m" d="M1665 220h47v217h-47z"/>
<g class="v w"><text x="1502" y="261">ETC</text><text x="1502" y="368">一般</text><text x="1593" y="261">ETC専用</text><text x="1689" y="260">休止</text><text x="1784" y="225">ETC専用</text><text x="1877" y="260">一般</text><text x="1971" y="225">ETC専用</text></g>
<text class="n" x="1500 1595" y="530">①②</text><text class="n" x="1689 1784 1878 1973" y="167">③④⑤⑥</text>
<path class="bo" d="M1619 294h44v70h-44z"/><text class="f" x="1641" y="315">ﾌﾞｰｽ</text><path class="bo" d="M1807 294h45v70h-45z"/><text class="f" x="1829" y="315">ﾌﾞｰｽ</text><path class="bo" d="M1430 367h44v34h-44z"/><text class="n" x="1450" y="384">左</text>
<path class="of" d="M2045 222h41v215h-41z"/><text class="v" x="2066" y="224">料金所事務室</text>
<use href="#u" x="1522" y="151"/><use href="#u" x="1597" y="148"/><use href="#u" x="1546" y="533"/><use href="#d" x="1834" y="122"/><use href="#d" x="1711" y="498"/><use href="#d" x="1899" y="498"/>
<text x="1830" y="97">出口</text><text x="1546" y="601">入口</text><g class="s"><text x="1523" y="93">大阪</text><text x="1523" y="125">方面</text><text x="1612" y="93">名古屋</text><text x="1612" y="121">方面</text><text x="1712" y="572">国道23号･1号</text><text x="1712" y="603">方面</text><text x="1901" y="572">東員･菰野</text><text x="1901" y="603">方面</text></g><text class="h" x="1738" y="39">四日市東</text>
</g>
<g id="s17" transform="translate(0,3131)">
<path class="g" d="M2369 0h716v624H2369z"/><path class="wh" d="M2378 77h699v538H2378z"/><path class="bl" d="M2471 75h512v540H2471z"/><path class="gy" d="M2464 75h7v548h-7zM2983 75h6v548h-6z"/>
<path class="wh" d="M2516 257h46v253h-46zM2610 186h45v324h-45zM2703 186h46v251h-46zM2798 186h46v251h-46zM2892 186h46v251h-46zM2647 80h6v106h-6zM2627 510h6v107h-6z"/>
<path class="p" d="M2471 256h45v109h-45zM2562 256h48v218h-48zM2749 220h49v217h-49zM2844 220h48v217h-48z"/><path class="g" d="M2471 365h45v109h-45zM2938 220h45v217h-45z"/><path class="m" d="M2655 220h48v217h-48z"/>
<g class="v w"><text x="2493" y="261">ETC</text><text x="2493" y="368">一般</text><text x="2586" y="261">ETC専用</text><text x="2679" y="260">休止</text><text x="2773" y="225">ETC専用</text><text x="2868" y="225">ETC専用</text><text x="2960" y="260">一般</text></g>
<text class="n" x="2491 2586" y="530">①②</text><text class="n" x="2680 2775 2869 2962" y="167">③④⑤⑥</text>
<path class="bo" d="M2610 294h44v70h-44z"/><text class="f" x="2632" y="315">ﾌﾞｰｽ</text><path class="bo" d="M2798 294h45v70h-45z"/><text class="f" x="2820" y="315">ﾌﾞｰｽ</text><path class="bo" d="M2892 294h46v70h-46z"/><text class="f" x="2915" y="315">ﾌﾞｰｽ</text><path class="bo" d="M2421 367h43v34h-43z"/><text class="n" x="2441" y="384">左</text>
<path class="of" d="M3034 222h43v215h-43z"/><text class="v" x="3055" y="224">料金所事務室</text>
<use href="#u" x="2510" y="150"/><use href="#u" x="2599" y="150"/><use href="#u" x="2537" y="541"/><use href="#d" x="2826" y="122"/><use href="#d" x="2724" y="536"/><use href="#d" x="2913" y="536"/>
<text x="2822" y="97">出口</text><text x="2537" y="601">入口</text><g class="s"><text x="2514" y="93">大阪</text><text x="2514" y="125">方面</text><text x="2602" y="93">名古屋</text><text x="2602" y="121">方面</text></g><text x="2726" y="601">桑名方面</text><text x="2915" y="601">員弁方面</text><text class="h" x="2726" y="39">桑名</text>
</g>
<g id="s18" transform="translate(0,3964)">
<path class="g" d="M57 0h810v624H57z"/><path class="wh" d="M65 77h795v538H65z"/><path class="bl" d="M160 75h610v540H160z"/><path class="gy" d="M152 75h8v548h-8zM765 75h8v548h-8z"/>
<path class="wh" d="M204 257h45v253h-45zM298 257h45v253h-45zM392 186h46v324h-46zM487 186h45v251h-45zM581 186h45v251h-45zM675 186h47v251h-47zM409 80h7v106h-7zM409 510h7v107h-7z"/>
<path class="p" d="M249 256h49v218h-49zM343 256h49v109h-49zM532 220h49v217h-49zM626 220h49v217h-49z"/><path class="g" d="M160 256h44v218h-44zM343 365h49v109h-49zM438 220h49v217h-49z"/><path class="m" d="M722 220h48v217h-48z"/>
<g class="v w"><text x="182" y="296">一般</text><text x="274" y="261">ETC専用</text><text x="368" y="261">ETC</text><text x="368" y="368">一般</text><text x="462" y="260">一般</text><text x="557" y="225">ETC専用</text><text x="651" y="225">ETC専用</text><text x="746" y="260">休止</text></g>
<text class="n" x="179 274 368" y="530">①②③</text><text class="n" x="462 557 651 746" y="167">④⑤⑥⑦</text>
<path class="bo" d="M393 294h45v70h-45z"/><text class="f" x="415" y="315">ﾌﾞｰｽ</text><path class="bo" d="M582 294h45v70h-45z"/><text class="f" x="604" y="315">ﾌﾞｰｽ</text><path class="bo" d="M676 294h45v70h-45z"/><text class="f" x="698" y="315">ﾌﾞｰｽ</text><path class="bo" d="M298 367h46v34h-46z"/><text class="n" x="321" y="384">左</text>
<path class="of" d="M816 222h45v215h-45z"/><text class="v" x="838" y="224">料金所事務室</text>
<use href="#u" x="204" y="145"/><use href="#u" x="317" y="145"/><use href="#u" x="276" y="542"/><use href="#d" x="604" y="124"/><use href="#d" x="510" y="505"/><use href="#d" x="696" y="505"/>
<text x="604" y="97">出口</text><text x="274" y="601">入口</text><text x="203" y="93">大阪</text><text x="203" y="125">方面</text><text x="321" y="93">名古屋</text><text x="321" y="125">方面</text><text x="510" y="568">桑名市街</text><text x="510" y="602">方面</text><text x="698" y="568">大垣</text><text x="698" y="602">方面</text><text class="h" x="463" y="39">桑名東</text>
</g>
<g id="s19" transform="translate(0,3964)">
<path class="g" d="M906 0h527v624H906z"/><path class="wh" d="M914 77h511v538H914z"/><path class="bl" d="M1008 75h324v540h-324z"/><path class="gy" d="M1001 75h7v548h-7zM1332 75h7v548h-7z"/>
<path class="wh" d="M1052 257h46v253h-46zM1147 186h45v324h-45zM1241 186h46v251h-46zM1189 80h6v106h-6zM1164 510h7v107h-7z"/>
<path class="p" d="M1008 256h44v218h-44zM1098 256h49v109h-49zM1192 220h49v217h-49z"/><path class="g" d="M1098 365h49v109h-49zM1287 220h45v217h-45z"/>
<g class="v w"><text x="1030" y="261">ETC専用</text><text x="1122" y="261">ETC</text><text x="1122" y="368">一般</text><text x="1216" y="225">ETC専用</text><text x="1309" y="260">一般</text></g>
<text class="n" x="1029 1123" y="530">①②</text><text class="n" x="1123 1218 1312" y="167">③④⑤</text>
<path class="bo" d="M1054 294h45v70h-45z"/><text class="f" x="1076" y="315">ﾌﾞｰｽ</text><path class="bo" d="M1148 294h45v70h-45z"/><text class="f" x="1170" y="315">ﾌﾞｰｽ</text><path class="bo" d="M1242 294h45v70h-45z"/><text class="f" x="1264" y="315">ﾌﾞｰｽ</text><path class="bo" d="M959 367h42v34h-42z"/><text class="n" x="978" y="384">左</text><path class="bo" d="M1054 367h45v34h-45z"/><text class="n" x="1076" y="384">左</text>
<path class="of" d="M1384 222h42v215h-42z"/><text class="v" x="1405" y="224">料金所事務室</text>
<use href="#u" x="1051" y="179"/><use href="#u" x="1128" y="180"/><use href="#u" x="1078" y="537"/><use href="#d" x="1263" y="124"/>
<text x="1263" y="97">出口</text><text x="1074" y="601">入口</text><text x="1052" y="93">大阪</text><text x="1052" y="125">方面</text><g class="s"><text x="1140" y="93">名古屋</text><text x="1140" y="120">方面</text></g><text class="h" x="1170" y="39">長島</text>
</g>
<g id="s20" transform="translate(0,3964)">
<path class="g" d="M1472 0h621v624H1472z"/><path class="wh" d="M1481 77h605v538H1481z"/><path class="bl" d="M1574 75h420v540H1574z"/><path class="gy" d="M1567 75h7v548h-7zM1994 75h6v548h-6z"/>
<path class="wh" d="M1619 257h46v253h-46zM1714 186h44v324h-44zM1808 186h45v324h-45zM1902 186h46v251h-46zM1744 80h6v106h-6zM1720 510h5v105h-5z"/>
<path class="p" d="M1574 256h45v109h-45zM1665 256h49v218h-49zM1948 220h46v217h-46z"/><path class="g" d="M1574 365h45v109h-45zM1758 220h50v217h-50z"/><path class="m" d="M1853 220h49v217h-49z"/>
<g class="v w"><text x="1596" y="261">ETC</text><text x="1596" y="368">一般</text><text x="1689" y="261">ETC専用</text><text x="1783" y="260">一般</text><text x="1877" y="260">休止</text><text x="1971" y="225">ETC専用</text></g>
<text class="n" x="1595 1689 1784" y="530">①②③</text><text class="n" x="1784 1878 1972" y="167">④⑤⑥</text>
<path class="bo" d="M1713 294h46v70h-46z"/><text class="f" x="1735" y="315">ﾌﾞｰｽ</text><path class="bo" d="M1902 294h46v70h-46z"/><text class="f" x="1925" y="315">ﾌﾞｰｽ</text><path class="bo" d="M1525 367h42v34h-42z"/><text class="n" x="1544" y="384">左</text>
<path class="of" d="M2044 222h45v215h-45z"/><text class="v" x="2066" y="224">料金所事務室</text>
<use href="#u" x="1619" y="181"/><use href="#u" x="1700" y="181"/><use href="#u" x="1644" y="539"/><use href="#d" x="1877" y="117"/><use href="#d" x="1819" y="539"/><use href="#d" x="1933" y="533"/>
<text x="1877" y="97">出口</text><text x="1642" y="601">入口</text><g class="s"><text x="1618" y="93">名古屋</text><text x="1618" y="120">方面</text><text x="1697" y="93">大阪</text><text x="1697" y="125">方面</text></g><text x="1789" y="601">弥富方面</text><text x="1926" y="601">津島方面</text><text class="h" x="1784" y="39">弥富</text>
</g>
<g id="s21" transform="translate(0,3964)">
<path class="g" d="M2133 0h810v624H2133z"/><path class="wh" d="M2140 77h795v538H2140z"/><path class="bl" d="M2235 75h608v540H2235z"/><path class="gy" d="M2228 75h7v548h-7zM2843 75h6v548h-6z"/>
<path class="wh" d="M2280 257h45v253h-45zM2373 257h47v253h-47zM2468 186h46v324h-46zM2563 186h46v251h-46zM2657 186h45v251h-45zM2751 186h46v251h-46zM2486 80h6v106h-6zM2486 510h6v107h-6z"/>
<path class="p" d="M2325 256h48v218h-48zM2420 256h48v109h-48zM2609 220h48v217h-48zM2702 220h49v217h-49z"/><path class="g" d="M2235 256h45v218h-45zM2420 365h48v109h-48zM2797 220h46v217h-46z"/><path class="m" d="M2514 220h49v217h-49z"/>
<g class="v w"><text x="2257" y="296">一般</text><text x="2349" y="261">ETC専用</text><text x="2444" y="261">ETC</text><text x="2444" y="368">一般</text><text x="2538" y="260">休止</text><text x="2633" y="225">ETC専用</text><text x="2727" y="225">ETC専用</text><text x="2820" y="260">一般</text></g>
<text class="n" x="2256 2350 2445" y="530">①②③</text><text class="n" x="2538 2633 2728 2821" y="167">⑤⑥⑦⑧</text>
<path class="bo" d="M2470 294h43v70h-43z"/><text class="f" x="2491" y="315">ﾌﾞｰｽ</text><path class="bo" d="M2659 294h44v70h-44z"/><text class="f" x="2680" y="315">ﾌﾞｰｽ</text><path class="bo" d="M2752 294h45v70h-45z"/><text class="f" x="2774" y="315">ﾌﾞｰｽ</text><path class="bo" d="M2374 367h46v34h-46z"/><text class="n" x="2397" y="384">左</text>
<path class="of" d="M2141 222h40v215h-40z"/><text class="v" x="2161" y="224">料金所事務室</text>
<use href="#u" x="2280" y="143"/><use href="#u" x="2392" y="145"/><use href="#u" x="2350" y="539"/><use href="#d" x="2678" y="124"/><use href="#d" x="2583" y="529"/><use href="#d" x="2772" y="529"/>
<text x="2679" y="97">出口</text><text x="2349" y="601">入口</text><text x="2279" y="93">大阪</text><text x="2279" y="125">方面</text><text x="2395" y="93">名古屋</text><text x="2395" y="125">方面</text><text x="2586" y="601">津島方面</text><text x="2774" y="601">蟹江方面</text><text class="h" x="2538" y="39">蟹江</text>
</g>
</g>
</svg>
